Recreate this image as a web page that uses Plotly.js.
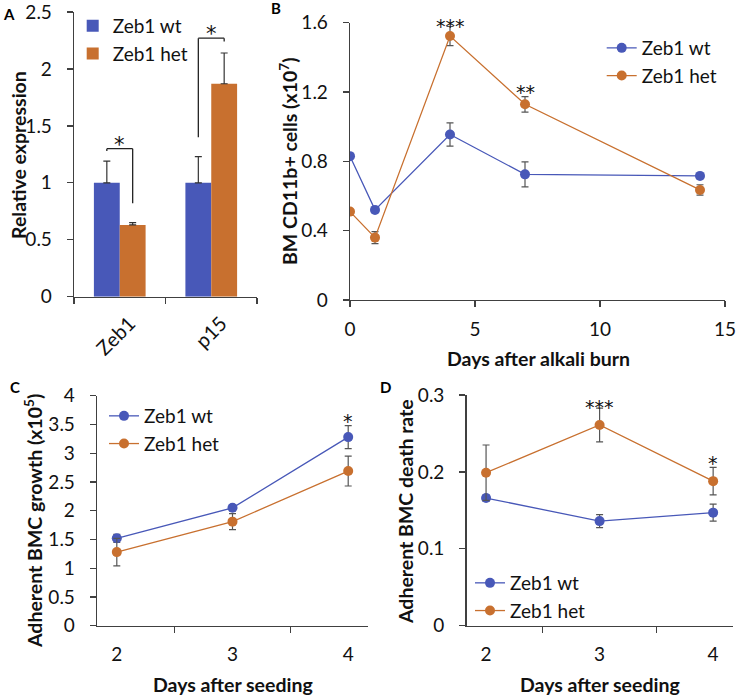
<!DOCTYPE html>
<html><head><meta charset="utf-8">
<script src="https://cdn.plot.ly/plotly-3.0.1.min.js"></script>
<style>html,body{margin:0;padding:0;background:#fff}</style>
</head><body><div id="chart" style="width:736px;height:695px"></div>
<script>
// ---------- Panel A: relative expression ----------
const genes = ['Zeb1', 'p15'];
const exprWt = [1.0, 1.0];
const exprWtErr = [0.19, 0.23];
const exprHet = [0.63, 1.87];
const exprHetErr = [0.02, 0.27];
const bracketTop = [1.30, 2.27];
const bracketLeftEnd = [1.28, 1.40];
const bracketRightEnd = [0.82, 2.24];
const sigA = ['*', '*'];

// ---------- Panel B: BM CD11b+ cells ----------
const burnDays = [0, 1, 4, 7, 14];
const cd11bWt = [0.83, 0.52, 0.955, 0.725, 0.716];
const cd11bWtErr = [0.01, 0.015, 0.067, 0.072, 0.01];
const cd11bHet = [0.51, 0.36, 1.523, 1.129, 0.635];
const cd11bHetErr = [0.012, 0.035, 0.055, 0.045, 0.03];
const sigB = ['', '', '***', '**', ''];

// ---------- Panel C: adherent BMC growth ----------
const seedDays = ['2', '3', '4'];
const growthWt = [1.52, 2.05, 3.28];
const growthWtErr = [0.07, 0.05, 0.2];
const growthHet = [1.28, 1.81, 2.69];
const growthHetErr = [0.24, 0.14, 0.26];
const sigC = ['', '', '*'];

// ---------- Panel D: adherent BMC death rate ----------
const deathWt = [0.166, 0.136, 0.147];
const deathWtErr = [0.004, 0.0085, 0.011];
const deathHet = [0.199, 0.261, 0.188];
const deathHetErr = [0.036, 0.022, 0.018];
const sigD = ['', '***', '*'];

const seriesNames = ['Zeb1 wt', 'Zeb1 het'];
const BLUE = '#4858b8';
const ORANGE = '#c8702f';
const FONT = 'Lato, "Open Sans", sans-serif';
const STARFONT = '"DejaVu Sans", sans-serif';
const W = 736, H = 695;
const fx = p => p / W;
const fy = p => 1 - p / H;
const bargapA = 0.435;

function lineTrace(x, y, err, name, color, xa, ya, leg) {
  return {
    type: 'scatter', mode: 'lines+markers', x: x, y: y, name: name,
    xaxis: xa, yaxis: ya, legend: leg,
    line: {color: color, width: 1.3},
    marker: {color: color, size: 10},
    error_y: {type: 'data', array: err, visible: true, color: '#555', thickness: 1.2, width: 3.5}
  };
}

const data = [
  {type: 'bar', x: genes, y: exprWt, name: seriesNames[0], marker: {color: BLUE},
   xaxis: 'x', yaxis: 'y', legend: 'legend',
   error_y: {type: 'data', symmetric: false, array: exprWtErr, arrayminus: exprWt.map(() => 0), color: '#333', thickness: 1.2, width: 3.5}},
  {type: 'bar', x: genes, y: exprHet, name: seriesNames[1], marker: {color: ORANGE},
   xaxis: 'x', yaxis: 'y', legend: 'legend',
   error_y: {type: 'data', symmetric: false, array: exprHetErr, arrayminus: exprHet.map(() => 0), color: '#333', thickness: 1.2, width: 3.5}},
  Object.assign(lineTrace(burnDays, cd11bWt, cd11bWtErr, seriesNames[0], BLUE, 'x2', 'y2', 'legend2'), {legendgroup: 'b1'}),
  Object.assign(lineTrace(burnDays, cd11bHet, cd11bHetErr, seriesNames[1], ORANGE, 'x2', 'y2', 'legend2'), {legendgroup: 'b2'}),
  lineTrace(seedDays, growthWt, growthWtErr, seriesNames[0], BLUE, 'x3', 'y3', 'legend3'),
  lineTrace(seedDays, growthHet, growthHetErr, seriesNames[1], ORANGE, 'x3', 'y3', 'legend3'),
  lineTrace(seedDays, deathWt, deathWtErr, seriesNames[0], BLUE, 'x4', 'y4', 'legend4'),
  lineTrace(seedDays, deathHet, deathHetErr, seriesNames[1], ORANGE, 'x4', 'y4', 'legend4')
];

const AX = '#404040';
function xAxis(dom, anchor, extra) {
  return Object.assign({
    domain: dom, anchor: anchor, showline: true, linecolor: AX, linewidth: 1.3,
    ticks: 'outside', ticklen: 6, tickcolor: AX, tickwidth: 1.3,
    showgrid: false, zeroline: false, ticklabelstandoff: 6, ticklabeloverflow: 'allow',
    tickfont: {family: FONT, size: 19, color: '#111'}
  }, extra);
}
function yAxis(dom, anchor, extra) {
  return Object.assign({
    domain: dom, anchor: anchor, showline: true, linecolor: AX, linewidth: 1.3,
    ticks: 'outside', ticklen: 6, tickcolor: AX, tickwidth: 1.3,
    showgrid: false, zeroline: false, ticklabelstandoff: 11, ticklabeloverflow: 'allow',
    tickfont: {family: FONT, size: 19, color: '#111'}
  }, extra);
}
const titleFont = {family: FONT, size: 19.5, color: '#111', weight: 700};

const shapes = [];
const annotations = [];
const off = (1 - bargapA) / 4;
genes.forEach((g, i) => {
  const l = {color: '#222', width: 1.3};
  shapes.push({type: 'line', xref: 'x', yref: 'y', x0: i - off, x1: i - off, y0: bracketLeftEnd[i], y1: bracketTop[i], line: l});
  shapes.push({type: 'line', xref: 'x', yref: 'y', x0: i - off, x1: i + off, y0: bracketTop[i], y1: bracketTop[i], line: l});
  shapes.push({type: 'line', xref: 'x', yref: 'y', x0: i + off, x1: i + off, y0: bracketTop[i], y1: bracketRightEnd[i], line: l});
  annotations.push({xref: 'x', yref: 'y', x: i, y: bracketTop[i], text: sigA[i], showarrow: false,
    yanchor: 'middle', yshift: 4, font: {family: STARFONT, size: 21, color: '#111'}});
});
function addStars(xs, vals, errs, sig, xr, yr) {
  sig.forEach((s, i) => {
    if (!s) return;
    annotations.push({xref: xr, yref: yr, x: xs[i], y: vals[i] + errs[i], text: s, showarrow: false,
      yanchor: 'middle', yshift: s.length === 3 ? 1 : 4.5, font: {family: STARFONT, size: 19, color: '#111'}});
  });
}
addStars(burnDays, cd11bHet, cd11bHetErr, sigB, 'x2', 'y2');
addStars([0, 1, 2], growthWt, growthWtErr, sigC, 'x3', 'y3');
addStars([0, 1, 2], deathHet, deathHetErr, sigD, 'x4', 'y4');

[['A', 8.5, 13.5], ['B', 275.5, 8], ['C', 15, 386.5], ['D', 385, 387]].forEach(p => {
  annotations.push({xref: 'paper', yref: 'paper', x: fx(p[1]), y: fy(p[2]), text: p[0], showarrow: false,
    xanchor: 'center', yanchor: 'middle', font: {family: FONT, size: 15, color: '#000', weight: 700}});
});

// axis titles placed as text
const axisTitles = [
  ['Relative expression', 19, 155, -90],
  ['BM CD11b+ cells (x10<sup>7</sup>)', 288, 161, -90],
  ['Adherent BMC growth (x10<sup>5</sup>)', 33, 521, -90],
  ['Adherent BMC death rate', 405, 512, -90],
  ['Days after alkali burn', 538, 358, 0],
  ['Days after seeding', 233, 684, 0],
  ['Days after seeding', 600, 684, 0]
];
axisTitles.forEach(t => {
  annotations.push({xref: 'paper', yref: 'paper', x: fx(t[1]), y: fy(t[2]), text: t[0], textangle: t[3],
    showarrow: false, xanchor: 'center', yanchor: 'middle', font: titleFont});
});

const legFont = {family: FONT, size: 19, color: '#111'};
const layout = {
  width: W, height: H, margin: {l: 0, r: 0, t: 0, b: 0},
  paper_bgcolor: '#fff', plot_bgcolor: 'rgba(0,0,0,0)',
  font: {family: FONT, color: '#111'},
  barmode: 'group', bargap: bargapA, bargroupgap: 0,
  showlegend: true,
  xaxis: xAxis([fx(74), fx(257)], 'y', {type: 'category', tickson: 'boundaries', tickangle: -45,
    ticklabelshift: 10, tickfont: {family: FONT, size: 20, color: '#111'}}),
  yaxis: yAxis([fy(296.7), fy(12)], 'x', {range: [0, 2.5], dtick: 0.5}),
  xaxis2: xAxis([fx(350), fx(725)], 'y2', {range: [0, 15], dtick: 5}),
  yaxis2: yAxis([fy(300), fy(22.7)], 'x2', {range: [0, 1.6], dtick: 0.4}),
  xaxis3: xAxis([fx(97), fx(368)], 'y3', {type: 'category', tickson: 'boundaries', ticklabelstandoff: 11}),
  yaxis3: yAxis([fy(625.7), fy(395.7)], 'x3', {range: [0, 4], dtick: 0.5}),
  xaxis4: xAxis([fx(466.5), fx(732.7)], 'y4', {type: 'category', tickson: 'boundaries', ticklabelstandoff: 11}),
  yaxis4: yAxis([fy(625.7), fy(395)], 'x4', {range: [0, 0.3], dtick: 0.1}),
  legend: {x: fx(72.7), y: fy(7), xanchor: 'left', yanchor: 'top', font: legFont, bgcolor: 'rgba(0,0,0,0)'},
  legend2: {x: fx(601.7), y: fy(29), xanchor: 'left', yanchor: 'top', font: legFont, bgcolor: 'rgba(0,0,0,0)', tracegroupgap: 0},
  legend3: {x: fx(104), y: fy(397), xanchor: 'left', yanchor: 'top', font: legFont, bgcolor: 'rgba(0,0,0,0)'},
  legend4: {x: fx(470), y: fy(564), xanchor: 'left', yanchor: 'top', font: legFont, bgcolor: 'rgba(0,0,0,0)'},
  shapes: shapes,
  annotations: annotations
};

Plotly.newPlot('chart', data, layout, {displayModeBar: false, staticPlot: true});
</script>
</body></html>
